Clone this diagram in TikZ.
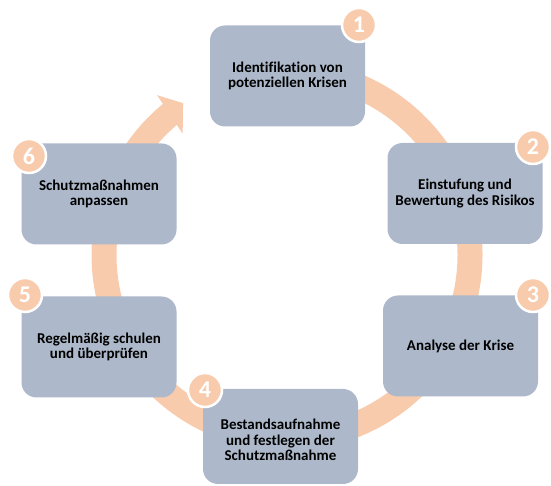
\documentclass[tikz,border=0pt]{standalone}
\usepackage{fontspec}
\setmainfont[Ligatures=NoCommon]{Carlito}
\definecolor{boxgray}{HTML}{ADB9CA}
\definecolor{peach}{HTML}{F8CBAD}
\begin{document}
\begin{tikzpicture}[x=1pt,y=1pt,
  steptext/.style={align=center, inner sep=0pt,
    font=\fontsize{15}{15.5}\selectfont\bfseries},
  stepbox/.style={steptext, fill=boxgray, rounded corners=15pt,
    minimum width=155pt, minimum height=101pt},
  badge/.style={circle, fill=peach, draw=white, line width=2.5pt,
    minimum size=34pt, inner sep=0pt, text=white,
    font=\fontsize{24}{24}\selectfont\bfseries},
  ring/.style={draw=peach, line width=25pt}]
\useasboundingbox (0,0) rectangle (551,486);

% circular flow arrow behind the steps
\coordinate (c) at (287,231);
\draw[ring] ([shift={(95:183)}]c) arc[start angle=95, end angle=-231, radius=183];
\fill[peach] ([shift={(129.1:206)}]c) -- ([shift={(124.4:184)}]c)
  -- ([shift={(130.7:160)}]c) -- cycle;

% process steps
\node[stepbox] (s1) at (287.5,410) {Identifikation von\\potenziellen Krisen};
\node[stepbox] (s2) at (465,292.5) {Einstufung und\\Bewertung des Risikos};
\node[stepbox] (s3) at (460.5,140) {Analyse der Krise};
\node[stepbox, minimum height=95pt] (s4) at (280.5,49.5) {};
\node[steptext] (t4) at ([yshift=-3.5pt]s4.center) {Bestandsaufnahme\\und festlegen der\\Schutzmaßnahme};
\node[stepbox] (s5) at (99,139) {Regelmäßig schulen\\und überprüfen};
\node[stepbox] (s6) at (99,292) {Schutzmaßnahmen\\anpassen};

% step numbers
\node[badge] (n1) at (359,461) {1};
\node[badge] (n2) at (533,339) {2};
\node[badge] (n3) at (533,191) {3};
\node[badge] (n4) at (205,96) {4};
\node[badge] (n5) at (25,191) {5};
\node[badge] (n6) at (29,330) {6};
\end{tikzpicture}
\end{document}
